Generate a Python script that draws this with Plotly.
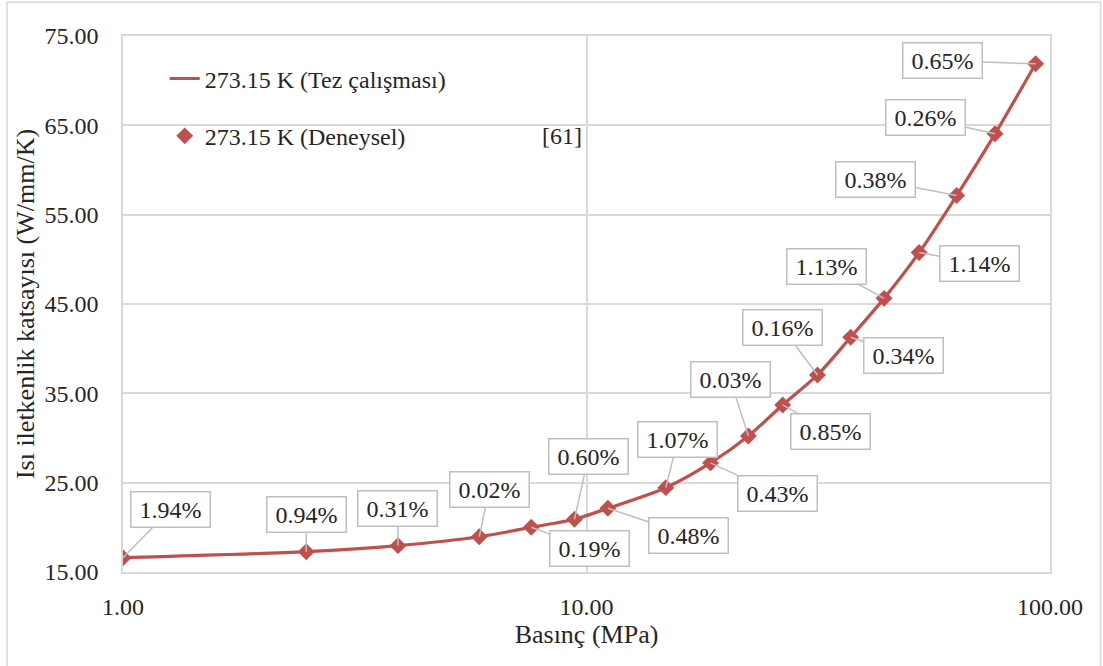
import math
import plotly.graph_objects as go

pressure = [1.00, 2.485, 3.92, 5.87, 7.60, 9.42, 11.12, 14.83, 18.52, 22.35,
            26.5, 31.5, 37.15, 43.85, 52.2, 62.9, 76.1, 93.1]
conductivity = [16.60, 17.27, 17.95, 18.95, 20.01, 20.90, 22.13, 24.44, 27.21, 30.23,
                33.70, 37.06, 41.28, 45.63, 50.76, 57.14, 64.05, 71.89]
deviation = ["1.94%", "0.94%", "0.31%", "0.02%", "0.19%", "0.60%", "0.48%", "1.07%", "0.43%",
             "0.03%", "0.85%", "0.16%", "0.34%", "1.13%", "1.14%", "0.38%", "0.26%", "0.65%"]
# label offsets (pixels) of each callout box relative to its point
label_dx = [47, 0, 0, 10, 58, 14, 81, 12, 67, -18, 48, -35, 53, -58, 60, -81, -70, -93]
label_dy = [-48, -37, -37, -47, 21, -63, 27, -48, 31, -56, 27, -47, 18, -32, 11, -16, -16, -3]

series_line = "273.15 K (Tez çalışması)"
series_pts = "273.15 K (Deneysel)"
ref_text = "[61]"
x_title = "Basınç (MPa)"
y_title = "Isı iletkenlik katsayısı (W/mm/K)"
x_tickvals = [1, 10, 100]
x_ticktext = ["1.00", "10.00", "100.00"]

RED = "#C0504D"
GRID = "#D9D9D9"
FONT = "Liberation Serif"
TXT = "#262626"

fig = go.Figure()
fig.add_trace(go.Scatter(
    x=pressure, y=conductivity, mode="lines", name=series_line,
    line=dict(color=RED, width=3.2, shape="spline", smoothing=0.8),
    legend="legend", showlegend=True,
))
fig.add_trace(go.Scatter(
    x=pressure, y=conductivity, mode="markers", name=series_pts,
    marker=dict(symbol="diamond", size=13, color=RED),
    legend="legend2", showlegend=True,
))

for xv, yv, t, dx, dy in zip(pressure, conductivity, deviation, label_dx, label_dy):
    fig.add_annotation(
        x=math.log10(xv), y=yv, text=t,
        xref="x", yref="y",
        showarrow=True, ax=dx, ay=dy, axref="pixel", ayref="pixel",
        arrowhead=0, arrowwidth=1.5, arrowcolor="#BFBFBF", standoff=0,
        bgcolor="white", bordercolor="#BFBFBF", borderwidth=1.5, borderpad=4,
        width=70, height=26,
        font=dict(family=FONT, size=24, color=TXT),
    )

fig.add_annotation(
    x=0.4736, y=0.814, xref="paper", yref="paper", text=ref_text, showarrow=False,
    xanchor="center", yanchor="middle", font=dict(family=FONT, size=24, color=TXT),
)

# outer chart border
fig.add_shape(type="rect", xref="paper", yref="paper",
              x0=-0.1251, x1=1.0545, y0=-0.2, y1=1.063,
              line=dict(color=GRID, width=1.5), layer="below")

fig.update_layout(
    width=1103, height=666,
    margin=dict(l=123, r=53, t=36, b=94),
    paper_bgcolor="white", plot_bgcolor="white",
    showlegend=True,
    font=dict(family=FONT, size=24, color=TXT),
    legend=dict(x=0.045, y=0.920, xanchor="left", yanchor="middle",
                bgcolor="rgba(0,0,0,0)", font=dict(family=FONT, size=24, color=TXT)),
    legend2=dict(x=0.045, y=0.813, xanchor="left", yanchor="middle",
                 bgcolor="rgba(0,0,0,0)", font=dict(family=FONT, size=24, color=TXT)),
    xaxis=dict(
        type="log", range=[0, 2], tickvals=x_tickvals, ticktext=x_ticktext,
        showgrid=True, gridcolor=GRID, gridwidth=1.5,
        showline=True, linecolor=GRID, linewidth=1.5, mirror=True,
        zeroline=False, ticks="", ticklabelstandoff=12,
        title=dict(text=x_title, font=dict(family=FONT, size=26, color=TXT), standoff=6),
        tickfont=dict(family=FONT, size=24, color=TXT),
    ),
    yaxis=dict(
        range=[15, 75], dtick=10, tick0=15, tickformat=".2f",
        showgrid=True, gridcolor=GRID, gridwidth=1.5,
        showline=True, linecolor=GRID, linewidth=1.5, mirror=True,
        zeroline=False, ticks="", ticklabelstandoff=18,
        title=dict(text=y_title, font=dict(family=FONT, size=26, color=TXT), standoff=2),
        tickfont=dict(family=FONT, size=24, color=TXT),
    ),
)

fig.write_html("out.html", config={"displayModeBar": False},
               post_script="document.body.style.margin='0';document.body.style.overflow='hidden';")
